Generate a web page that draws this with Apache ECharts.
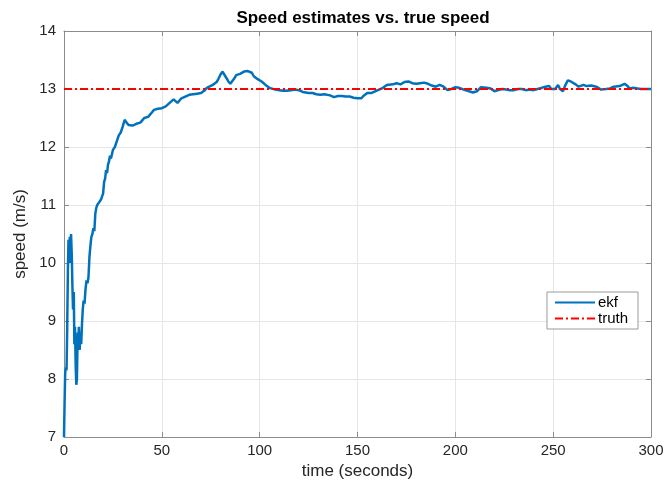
<!DOCTYPE html>
<html>
<head>
<meta charset="utf-8">
<script src="https://cdn.jsdelivr.net/npm/echarts@6/dist/echarts.min.js"></script>
<style>html,body{margin:0;padding:0;background:#fff;}#c{width:668px;height:485px;}</style>
</head>
<body>
<div id="c"></div>
<script>
const titleText = 'Speed estimates vs. true speed';
const xName = 'time (seconds)';
const yName = 'speed (m/s)';
const seriesNames = ['ekf', 'truth'];
const xTicks = [0, 50, 100, 150, 200, 250, 300];
const yTicks = [7, 8, 9, 10, 11, 12, 13, 14];
const truthSpeed = 13;
const time = [0,0.3,0.6,1.0,1.3,1.6,2.0,2.3,2.6,3.0,3.3,3.6,4.0,4.3,4.6,5.0,5.3,5.6,6.0,6.3,6.6,7.0,7.3,7.6,8.0,8.4,8.8,9.2,9.6,10,10.5,11,11.5,12,12.5,13,13.5,14,14.5,15,15.5,16,16.5,17,17.5,18,19,20,20.5,21,21.5,22,22.5,23,23.5,24,25,26,27,28,29,30,31,32,33,34,35,36,37,38,39,40,41,42,43,44,45,46,47,48,49,50,51,52,53,54,55,56,57,58,59,60,61,62,63,64,66,68,70,72,73,74,76,78,79,80,81,82,83,84,85,86,87,88,89,90,91,92,93,94,95,96,97,98,99,100,101,102,103,104,105,106,108,110,112,114,116,118,119,120,122,123,125,127,129,131,133,134,136,138,140,142,144,146,148,150,152,153,155,157,159,161,163,165,166,168,170,172,174,176,178,180,182,184,186,188,190,192,194,196,198,200,202,205,207,209,211,213,214,216,218,220,222,224,226,228,230,232,234,236,238,240,242,244,246,248,249,250,251,252.5,253.5,255,256,257.5,259,260,261.5,263,264,265.5,267,268,269.5,270.5,272,273,274.5,275.5,277,279,281,282,284,285,286.5,288,289,291,293,295,297,300];
const ekf = [7.0,7.6,8.1,8.2,8.15,8.8,9.9,10.4,10.2,10.45,10.0,10.5,10.1,9.6,9.2,9.5,8.6,8.9,8.2,7.9,8.0,8.8,8.6,8.9,8.5,8.8,8.6,8.95,9.2,9.35,9.3,9.55,9.7,9.65,9.75,10.1,10.3,10.45,10.5,10.6,10.55,10.85,10.95,11.0,11.0,11.05,11.1,11.2,11.4,11.45,11.6,11.55,11.7,11.75,11.85,11.8,11.95,12.0,12.1,12.2,12.25,12.35,12.47,12.42,12.38,12.35,12.37,12.36,12.4,12.41,12.42,12.46,12.5,12.48,12.52,12.53,12.6,12.64,12.65,12.66,12.67,12.67,12.69,12.7,12.7,12.76,12.78,12.82,12.8,12.76,12.78,12.84,12.86,12.87,12.88,12.9,12.91,12.92,12.93,12.98,13.02,13.04,13.07,13.12,13.18,13.25,13.3,13.28,13.19,13.13,13.09,13.1,13.18,13.24,13.25,13.26,13.27,13.3,13.32,13.31,13.3,13.28,13.22,13.19,13.17,13.15,13.13,13.1,13.07,13.05,13.02,13.0,12.99,12.98,12.97,12.97,12.98,12.99,13.0,12.98,12.95,12.94,12.93,12.93,12.91,12.9,12.91,12.92,12.89,12.86,12.88,12.88,12.87,12.87,12.85,12.84,12.84,12.88,12.93,12.93,12.96,12.99,13.02,13.07,13.09,13.08,13.1,13.08,13.12,13.13,13.1,13.09,13.1,13.11,13.09,13.06,13.04,13.07,13.04,12.98,13.0,13.03,13.02,12.98,12.96,12.94,12.96,13.03,13.05,13.02,13.01,12.96,12.98,13.0,12.99,12.98,12.98,13.0,13.0,12.98,12.99,12.98,13.0,13.02,13.04,13.05,13.0,12.97,13.0,13.07,13.0,12.96,13.05,13.15,13.13,13.12,13.08,13.04,13.06,13.07,13.05,13.03,13.06,13.07,13.04,13.01,12.99,12.98,13.0,13.01,13.04,13.02,13.05,13.06,13.09,13.05,13.01,13.02,13.01,13.0,13.0,13.0];

const FONT = 'Liberation Sans';
const chart = echarts.init(document.getElementById('c'), null, {renderer: 'canvas'});
const axisLineStyle = {color: '#8c8c8c', width: 1};
const labelStyle = {color: '#262626', fontFamily: FONT, fontSize: 15};
const xMin = xTicks[0], xMax = xTicks[xTicks.length - 1];
const yMin = yTicks[0], yMax = yTicks[yTicks.length - 1];
const xInt = xTicks[1] - xTicks[0], yInt = yTicks[1] - yTicks[0];

chart.setOption({
  animation: false,
  backgroundColor: '#ffffff',
  title: {
    text: titleText, left: 358, top: 5, textAlign: 'center',
    textStyle: {fontFamily: FONT, fontSize: 17, fontWeight: 'bold', color: '#000'}
  },
  grid: {left: 64, right: 17, top: 31, bottom: 48, containLabel: false},
  legend: {
    orient: 'vertical', left: 547, top: 292,
    backgroundColor: '#fff', borderColor: '#9a9a9a', borderWidth: 1,
    padding: [3, 10, 3, 7], itemGap: 1, itemWidth: 40, itemHeight: 12,
    itemStyle: {opacity: 0},
    textStyle: {fontFamily: FONT, fontSize: 15, color: '#000', padding: [0, 0, 0, -2]},
    data: seriesNames
  },
  xAxis: [{
    type: 'value', min: xMin, max: xMax, interval: xInt,
    name: xName, nameLocation: 'middle', nameGap: 22,
    nameTextStyle: {fontFamily: FONT, fontSize: 17, color: '#262626'},
    axisLine: {show: true, onZero: false, lineStyle: axisLineStyle},
    axisTick: {show: true, inside: true, length: 5, lineStyle: axisLineStyle},
    axisLabel: Object.assign({margin: 6}, labelStyle),
    splitLine: {show: true, lineStyle: {color: '#e6e6e6', width: 1}}
  }, {
    type: 'value', position: 'top', min: xMin, max: xMax, interval: xInt,
    axisLine: {show: true, onZero: false, lineStyle: axisLineStyle},
    axisTick: {show: true, inside: true, length: 5, lineStyle: axisLineStyle},
    axisLabel: {show: false}, splitLine: {show: false}
  }],
  yAxis: [{
    type: 'value', min: yMin, max: yMax, interval: yInt,
    name: yName, nameLocation: 'middle', nameGap: 34,
    nameTextStyle: {fontFamily: FONT, fontSize: 17, color: '#262626'},
    axisLine: {show: true, onZero: false, lineStyle: axisLineStyle},
    axisTick: {show: true, inside: true, length: 5, lineStyle: axisLineStyle},
    axisLabel: Object.assign({margin: 8}, labelStyle),
    splitLine: {show: true, lineStyle: {color: '#e6e6e6', width: 1}}
  }, {
    type: 'value', position: 'right', min: yMin, max: yMax, interval: yInt,
    axisLine: {show: true, onZero: false, lineStyle: axisLineStyle},
    axisTick: {show: true, inside: true, length: 5, lineStyle: axisLineStyle},
    axisLabel: {show: false}, splitLine: {show: false}
  }],
  series: [{
    name: seriesNames[0], type: 'line', xAxisIndex: 0, yAxisIndex: 0,
    data: time.map((t, i) => [t, ekf[i]]),
    showSymbol: false, symbol: 'none',
    lineStyle: {color: '#0072BD', width: 2.5},
    itemStyle: {color: '#0072BD'}, z: 3
  }, {
    name: seriesNames[1], type: 'line', xAxisIndex: 0, yAxisIndex: 0,
    data: [[xMin, truthSpeed], [xMax, truthSpeed]],
    showSymbol: false, symbol: 'none',
    lineStyle: {color: '#ff0000', width: 2, type: [8, 3, 2, 3]},
    itemStyle: {color: '#ff0000'}, z: 4
  }]
});
</script>
</body>
</html>
